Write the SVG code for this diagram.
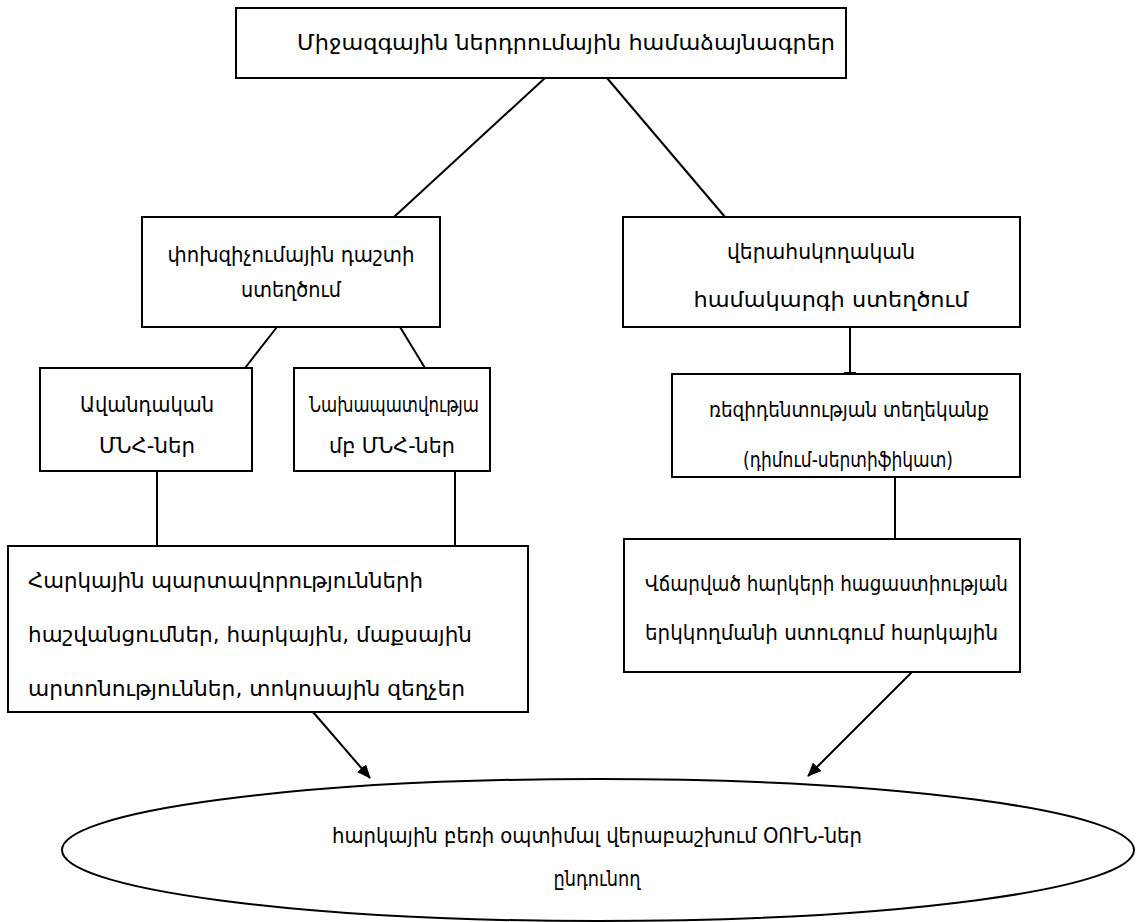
<svg xmlns="http://www.w3.org/2000/svg" width="1142" height="922" viewBox="0 0 1142 922">
<defs>
<style>
.b{fill:#fff;stroke:#000;stroke-width:2}
.t{font-family:"DejaVu Sans","DejaVu Serif",sans-serif;font-size:21px;fill:#000}
.e{font-size:22px}
.c{text-anchor:middle}
.l{stroke:#000;stroke-width:2;fill:none}
</style>
<marker id="ah" viewBox="0 0 14 12" refX="13" refY="6" markerWidth="14" markerHeight="12" markerUnits="userSpaceOnUse" orient="auto">
<path d="M0,0 L14,6 L0,12 z" fill="#000"/>
</marker>
</defs>
<rect width="1142" height="922" fill="#fff"/>
<g id="connectors">
<line class="l" x1="545" y1="78" x2="394" y2="217"/>
<line class="l" x1="607" y1="78" x2="725" y2="217"/>
<line class="l" x1="277" y1="327" x2="245" y2="368"/>
<line class="l" x1="400" y1="327" x2="425" y2="368"/>
<line class="l" x1="850" y1="327" x2="850" y2="374"/>
<line class="l" x1="844" y1="373" x2="856" y2="373"/>
<line class="l" x1="157" y1="471" x2="157" y2="546"/>
<line class="l" x1="455" y1="471" x2="455" y2="546"/>
<line class="l" x1="895" y1="477" x2="895" y2="539"/>
<line class="l" x1="313" y1="712" x2="370" y2="778" marker-end="url(#ah)"/>
<line class="l" x1="912" y1="672" x2="808" y2="776" marker-end="url(#ah)"/>
</g>
<g id="n1">
<rect class="b" x="236" y="8" width="610" height="70"/>
<text class="t" x="297" y="50" textLength="538" lengthAdjust="spacingAndGlyphs">Միջազգային ներդրումային համաձայնագրեր</text>
</g>
<g id="n2">
<rect class="b" x="142" y="217" width="298" height="110"/>
<text class="t c" x="291" y="262" textLength="247" lengthAdjust="spacingAndGlyphs">փոխզիչումային դաշտի</text>
<text class="t c" x="291" y="297" textLength="100" lengthAdjust="spacingAndGlyphs">ստեղծում</text>
</g>
<g id="n3">
<rect class="b" x="623" y="217" width="397" height="110"/>
<text class="t c" x="821" y="259" textLength="188" lengthAdjust="spacingAndGlyphs">վերահսկողական</text>
<text class="t c" x="831" y="307" textLength="275" lengthAdjust="spacingAndGlyphs">համակարգի ստեղծում</text>
</g>
<g id="n4">
<rect class="b" x="40" y="368" width="212" height="103"/>
<text class="t c" x="147" y="412" textLength="134" lengthAdjust="spacingAndGlyphs">Ավանդական</text>
<text class="t c" x="147" y="453" textLength="96" lengthAdjust="spacingAndGlyphs">ՄՆՀ-ներ</text>
</g>
<g id="n5">
<rect class="b" x="294" y="368" width="196" height="103"/>
<text class="t c" x="394" y="412" textLength="170" lengthAdjust="spacingAndGlyphs">Նախապատվությա</text>
<text class="t c" x="392" y="453" textLength="126" lengthAdjust="spacingAndGlyphs">մբ ՄՆՀ-ներ</text>
</g>
<g id="n6">
<rect class="b" x="672" y="374" width="348" height="103"/>
<text class="t c" x="849" y="417" textLength="280" lengthAdjust="spacingAndGlyphs">ռեզիդենտության տեղեկանք</text>
<text class="t c" x="848" y="467" textLength="210" lengthAdjust="spacingAndGlyphs">(դիմում-սերտիֆիկատ)</text>
</g>
<g id="n7">
<rect class="b" x="8" y="546" width="520" height="166"/>
<text class="t" x="28" y="588" textLength="395" lengthAdjust="spacingAndGlyphs">Հարկային պարտավորությունների</text>
<text class="t" x="28" y="642" textLength="444" lengthAdjust="spacingAndGlyphs">հաշվանցումներ, հարկային, մաքսային</text>
<text class="t" x="28" y="696" textLength="437" lengthAdjust="spacingAndGlyphs">արտոնություններ, տոկոսային զեղչեր</text>
</g>
<g id="n8">
<rect class="b" x="624" y="539" width="396" height="133"/>
<text class="t" x="645" y="591" textLength="363" lengthAdjust="spacingAndGlyphs">Վճարված հարկերի հացաստիության</text>
<text class="t" x="645" y="640" textLength="353" lengthAdjust="spacingAndGlyphs">երկկողմանի ստուգում հարկային</text>
</g>
<g id="n9">
<ellipse class="b" cx="598" cy="850" rx="536" ry="71"/>
<text class="t e c" x="597" y="843" textLength="530" lengthAdjust="spacingAndGlyphs">հարկային բեռի օպտիմալ վերաբաշխում ՕՈՒՆ-ներ</text>
<text class="t e c" x="597" y="886" textLength="87" lengthAdjust="spacingAndGlyphs">ընդունող</text>
</g>
</svg>
